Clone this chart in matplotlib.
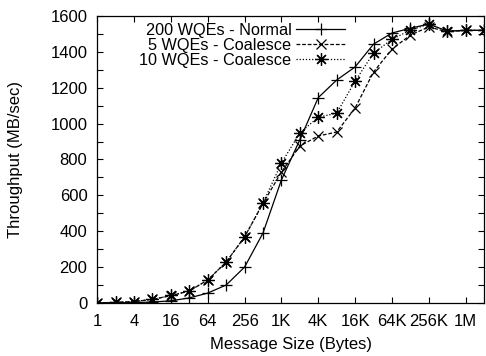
import matplotlib
matplotlib.use("Agg")
import matplotlib.pyplot as plt
from matplotlib.ticker import MultipleLocator

plt.rcParams['font.family'] = ['Liberation Sans', 'DejaVu Sans']

# message sizes: powers of two from 1 B to 2 MB
sizes = [2 ** k for k in range(22)]
xtick_vals = [1, 4, 16, 64, 256, 1024, 4096, 16384, 65536, 262144, 1048576]
xtick_labels = ["1", "4", "16", "64", "256", "1K", "4K", "16K", "64K", "256K", "1M"]

# throughput [MB/sec]
normal_200 = [0, 1, 2, 5, 12, 28, 55, 100, 200, 390, 686, 910,
              1145, 1243, 1316, 1443, 1505, 1532, 1555, 1516, 1520, 1520]
coalesce_5 = [1, 3, 8, 20, 40, 67, 128, 228, 368, 555, 730, 875,
              931, 953, 1087, 1288, 1415, 1494, 1539, 1512, 1520, 1520]
coalesce_10 = [1, 3, 8, 20, 42, 67, 128, 228, 368, 557, 780, 948,
               1036, 1058, 1237, 1393, 1470, 1521, 1555, 1516, 1520, 1520]

fig = plt.figure(figsize=(4.86, 3.56), dpi=100)
ax = fig.add_axes([0.2, 0.149, 0.796, 0.806])

ast = (8, 2, 0)
ax.plot(sizes, normal_200, color="black", lw=0.9, ls="-", marker="+", ms=9,
        mew=0.9, label="200 WQEs - Normal")
ax.plot(sizes, coalesce_5, color="black", lw=0.9, ls=(0, (3, 1.5)), marker="x",
        ms=7, mew=0.9, label="5 WQEs - Coalesce")
ax.plot(sizes, coalesce_10, color="black", lw=0.9, ls=(0, (1, 1.5)), marker=ast,
        ms=9, mew=0.9, label="10 WQEs - Coalesce")

ax.set_xscale("log", base=2)
ax.set_xlim(1, 2 ** 21)
ax.set_ylim(0, 1600)
ax.set_xticks(xtick_vals)
ax.set_xticklabels(xtick_labels)
ax.minorticks_off()
ax.yaxis.set_major_locator(MultipleLocator(200))
ax.yaxis.set_minor_locator(MultipleLocator(100))
ax.tick_params(which="both", direction="in", top=True, right=True,
               labelsize=12, length=4, width=0.8)
ax.tick_params(axis="x", pad=8)
ax.tick_params(axis="y", pad=7)
for s in ax.spines.values():
    s.set_linewidth(0.9)

ax.set_xlabel("Message Size (Bytes)", fontsize=12, labelpad=6)
ax.set_ylabel("Throughput (MB/sec)", fontsize=12, labelpad=20)

ax.legend(loc="upper right", bbox_to_anchor=(0.67, 1.015), frameon=False,
          markerfirst=False, fontsize=11.7, handlelength=3.0,
          labelspacing=0.0, handletextpad=0.3, borderpad=0.2)
for t in ax.get_legend().get_texts():
    t.set_ha("right")

fig.savefig("out.png", dpi=100)
